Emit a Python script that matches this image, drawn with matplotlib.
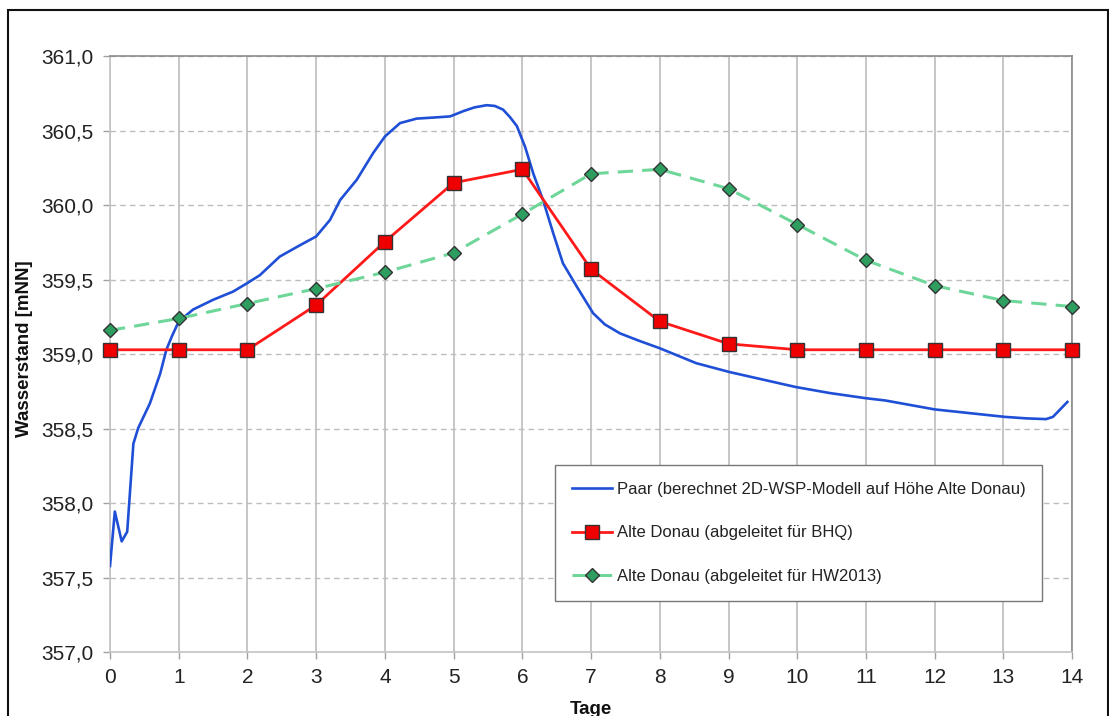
import matplotlib
matplotlib.use("Agg")
import matplotlib.pyplot as plt
from matplotlib.patches import Rectangle

plt.rcParams['font.family'] = ['Liberation Sans', 'DejaVu Sans']

# Paar – computed 2D water level model at Alte Donau
paar_days = [0.00, 0.07, 0.17, 0.25, 0.34, 0.41, 0.58, 0.73, 0.82, 0.90,
             1.00, 1.21, 1.50, 1.79, 1.99, 2.18, 2.47, 2.76, 3.00, 3.20,
             3.35, 3.59, 3.83, 4.00, 4.22, 4.46, 4.80, 4.95, 5.14, 5.30,
             5.48, 5.60, 5.72, 5.82, 5.92, 6.04, 6.16, 6.30, 6.45, 6.59,
             6.79, 7.03, 7.20, 7.42, 7.70, 8.00, 8.53, 9.02, 9.50, 9.98,
             10.47, 11.00, 11.28, 12.00, 12.51, 13.02, 13.33, 13.62, 13.72, 13.93]
paar_level = [357.58, 357.945, 357.745, 357.81, 358.40, 358.505, 358.67, 358.87, 359.03, 359.12,
              359.22, 359.30, 359.365, 359.42, 359.475, 359.53, 359.655, 359.73, 359.79, 359.90,
              360.035, 360.17, 360.35, 360.46, 360.55, 360.58, 360.59, 360.595, 360.63, 360.655,
              360.67, 360.665, 360.64, 360.59, 360.53, 360.39, 360.21, 360.035, 359.81, 359.61,
              359.455, 359.275, 359.20, 359.14, 359.09, 359.04, 358.94, 358.88, 358.83, 358.78,
              358.74, 358.705, 358.69, 358.63, 358.605, 358.58, 358.57, 358.565, 358.58, 358.68]

days = list(range(15))
bhq_level = [359.03, 359.03, 359.03, 359.33, 359.755, 360.15, 360.24, 359.57,
             359.22, 359.07, 359.03, 359.03, 359.03, 359.03, 359.03]
hw2013_level = [359.16, 359.24, 359.34, 359.44, 359.55, 359.68, 359.94, 360.21,
                360.24, 360.11, 359.87, 359.63, 359.46, 359.36, 359.32]

labels = ["Paar (berechnet 2D-WSP-Modell auf Höhe Alte Donau)",
          "Alte Donau (abgeleitet für BHQ)",
          "Alte Donau (abgeleitet für HW2013)"]

y_ticks = [357.0, 357.5, 358.0, 358.5, 359.0, 359.5, 360.0, 360.5, 361.0]
y_ticklabels = ["357,0", "357,5", "358,0", "358,5", "359,0", "359,5", "360,0", "360,5", "361,0"]
x_ticks = list(range(15))

fig = plt.figure(figsize=(11.09, 7.16), dpi=100)
ax = fig.add_axes([0.0992, 0.0887, 0.8676, 0.8331])

ax.plot(paar_days, paar_level, color="#1f4fd6", lw=1.9, label=labels[0], zorder=3)
ax.plot(days, bhq_level, color="#ff1a1a", lw=2.0, marker="s", markersize=9.5,
        markerfacecolor="#ee0000", markeredgecolor="#333333", markeredgewidth=1.0,
        label=labels[1], zorder=4, clip_on=False)
ax.plot(days, hw2013_level, color="#6fd69a", lw=2.2, ls=(0, (5, 3.0)), marker="D",
        markersize=7, markerfacecolor="#2e9e60", markeredgecolor="#333333",
        markeredgewidth=1.0, label=labels[2], zorder=4, clip_on=False)

ax.set_xlim(0, 14)
ax.set_ylim(357.0, 361.0)
ax.set_xticks(x_ticks)
ax.set_yticks(y_ticks)
ax.set_yticklabels(y_ticklabels)

ax.grid(axis="x", color="#bcbcbc", lw=1.2, ls="-")
ax.grid(axis="y", color="#bdbdbd", lw=1.0, ls=(0, (4, 3)))
ax.set_axisbelow(True)

for side in ("top", "right"):
    ax.spines[side].set_color("#8a8a8a")
    ax.spines[side].set_linewidth(1.2)
for side in ("left", "bottom"):
    ax.spines[side].set_color("#c4c4c4")
    ax.spines[side].set_linewidth(1.2)

ax.tick_params(axis="both", direction="out", length=5, width=1.0, color="#a0a0a0",
               labelsize=15, labelcolor="#222222")
ax.tick_params(axis="y", pad=7)
ax.tick_params(axis="x", pad=6)

ax.set_ylabel("Wasserstand [mNN]", fontsize=13.5, fontweight="bold", color="#111111")
ax.yaxis.set_label_coords(-0.0797, 0.51)
ax.set_xlabel("Tage", fontsize=13.5, fontweight="bold", color="#111111", labelpad=10)

leg = ax.legend(loc="upper left", bbox_to_anchor=(0.4626, 0.3143), borderaxespad=0,
                fontsize=12, labelspacing=1.72, handlelength=2.4, handletextpad=0.3,
                borderpad=1.0, frameon=True, fancybox=False, framealpha=1.0)
leg.get_frame().set_edgecolor("#777777")
leg.get_frame().set_linewidth(1.0)
for t in leg.get_texts():
    t.set_color("#222222")

# Outer frame around the chart
fig.patches.append(Rectangle((8 / 1109, -0.05), 1100 / 1109, 1.05 - 10 / 716,
                             transform=fig.transFigure, fill=False,
                             edgecolor="#111111", lw=1.5))

fig.savefig("out.png", dpi=100)
